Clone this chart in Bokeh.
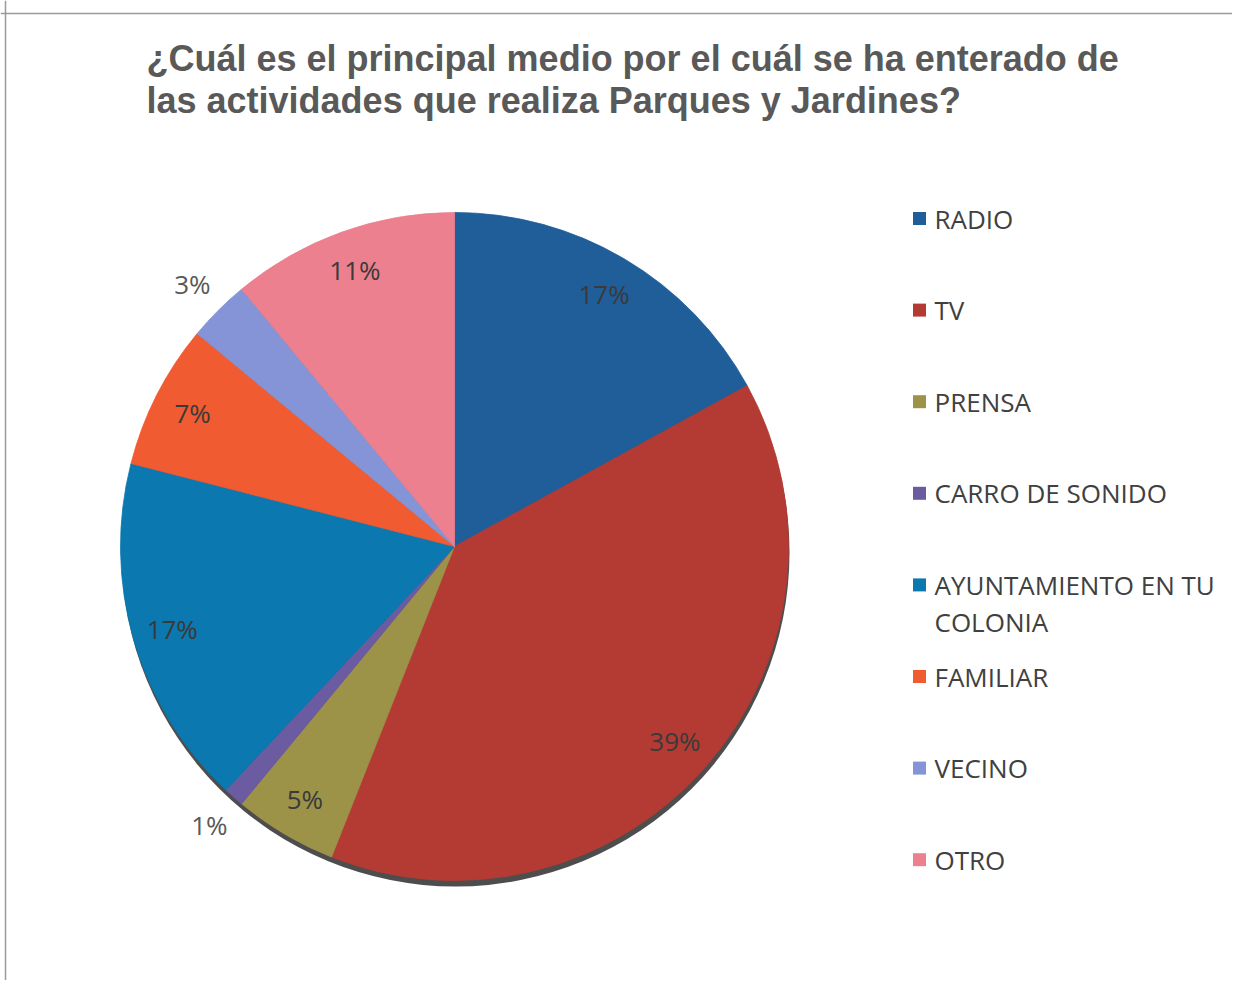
import math
import textwrap
import numpy as np
from bokeh.plotting import figure
from bokeh.models import Range1d, ColumnDataSource, Span
from bokeh.core.properties import value
from bokeh.embed import file_html
from bokeh.resources import INLINE

# ---------------- data ----------------
title_lines = [
    "¿Cuál es el principal medio por el cuál se ha enterado de",
    "las actividades que realiza Parques y Jardines?",
]
categories = ["RADIO", "TV", "PRENSA", "CARRO DE SONIDO",
              "AYUNTAMIENTO EN TU COLONIA", "FAMILIAR", "VECINO", "OTRO"]
percentages = [17, 39, 5, 1, 17, 7, 3, 11]
colors = ["#1F5E99", "#B43B34", "#9C9349", "#6B5BA0",
          "#0B78AF", "#F15B31", "#8594D6", "#EC808F"]

# ---------------- layout ----------------
W, H = 1232, 980
p = figure(width=W, height=H,
           x_range=Range1d(0, W), y_range=Range1d(-H, 0),
           x_axis_type=None, y_axis_type=None,
           toolbar_location=None, output_backend="svg",
           min_border=0, outline_line_color=None)
p.background_fill_color = "white"
p.border_fill_color = "white"

# chart frame (top and left edges visible)
p.add_layout(Span(location=-13, dimension="width", line_color="#9a9a9a", line_width=1.5))
p.add_layout(Span(location=5, dimension="height", line_color="#9a9a9a", line_width=1.5))

# title
p.text(x=[146, 146], y=[-58, -100], text=title_lines,
       text_font=value("Liberation Sans"), text_font_style="bold",
       text_font_size="36px", text_color="#595959",
       text_align="left", text_baseline="middle")

# pie
cx, cy, R = 454, -546, 334
vals = np.array(percentages, dtype=float)
total = vals.sum()
ends = np.cumsum(vals) / total
starts = ends - vals / total
start_ang = math.pi / 2 - 2 * math.pi * starts
end_ang = math.pi / 2 - 2 * math.pi * ends

# shadow
p.circle(x=[cx + 1], y=[cy - 6], radius=R, fill_color="#3a3a3a",
         fill_alpha=0.9, line_color=None)

src = ColumnDataSource(dict(start=start_ang, end=end_ang, color=colors,
                            cat=categories, pct=percentages))
p.wedge(x=cx, y=cy, radius=R, start_angle="start", end_angle="end",
        direction="clock", fill_color="color", line_color="color",
        line_width=0.8, source=src)

# data labels
mid = (starts + ends) / 2
theta = math.pi / 2 - 2 * math.pi * mid
factor = np.where(vals < 4, 1.11, 0.88)
lx = cx + factor * R * np.cos(theta)
ly = cy + factor * R * np.sin(theta)
lab_col = ["#595959" if v < 4 else "#3a3a3a" for v in vals]
p.text(x=lx, y=ly, text=[f"{int(v)}%" for v in percentages],
       text_font=value("Open Sans"), text_font_size="26px",
       text_color=lab_col, text_align="center", text_baseline="middle")

# legend
leg_top, leg_step, line_h = 218, 91.6, 37
sq_x, txt_x = 919, 934
for i, (cat, col) in enumerate(zip(categories, colors)):
    yc = leg_top + i * leg_step
    p.rect(x=[sq_x], y=[-yc], width=13, height=13, fill_color=col, line_color=None)
    for j, line in enumerate(textwrap.wrap(cat, 18)):
        p.text(x=[txt_x], y=[-(yc + j * line_h)], text=[line],
               text_font=value("Open Sans"), text_font_size="26px",
               text_color="#404040", text_align="left",
               text_baseline="middle")

open("out.html", "w").write(file_html(p, INLINE))
